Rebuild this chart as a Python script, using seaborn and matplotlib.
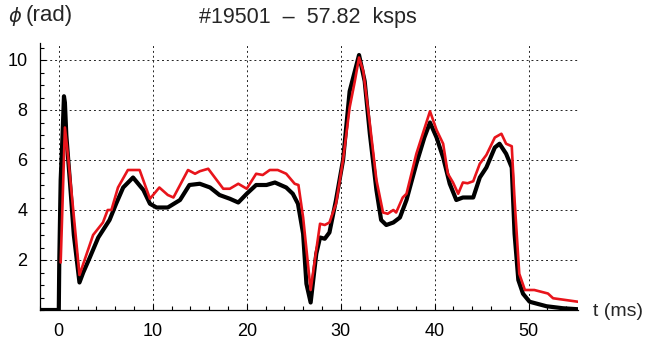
import matplotlib
matplotlib.use("Agg")
import matplotlib.pyplot as plt
from matplotlib.ticker import MultipleLocator
import seaborn as sns
import pandas as pd

# ---- data ----
t_black = [-2.0, 0.0, 0.05, 0.2, 0.4, 0.55, 0.65, 0.8, 1.17, 1.6, 2.2, 2.6, 3.3, 4.2,
           5.4, 6.1, 6.85, 7.9, 9.0, 9.7, 10.4, 11.6, 12.9, 13.9, 15.0, 16.1, 17.1,
           18.2, 19.1, 20.0, 21.0, 22.1, 23.0, 24.2, 24.9, 25.45, 26.0, 26.35, 26.8,
           27.4, 27.8, 28.3, 28.8, 29.5, 30.25, 30.95, 31.95, 32.55, 33.1, 33.8, 34.3,
           34.85, 35.6, 36.3, 37.0, 38.05, 38.9, 39.5, 40.2, 40.9, 41.6, 42.3, 43.0,
           44.1, 44.8, 45.5, 46.4, 46.9, 47.6, 48.2, 48.5, 48.9, 49.4, 50.1, 51.9,
           53.65, 55.25]
phi_black = [0.0, 0.0, 1.9, 5.2, 7.0, 8.55, 8.3, 7.0, 5.2, 3.0, 1.1, 1.5, 2.1, 2.9,
             3.6, 4.25, 4.9, 5.3, 4.8, 4.25, 4.1, 4.1, 4.4, 5.0, 5.05, 4.9, 4.6,
             4.45, 4.3, 4.65, 5.0, 5.0, 5.1, 4.9, 4.65, 4.25, 3.05, 1.05, 0.3,
             2.25, 2.9, 2.85, 3.1, 4.4, 6.0, 8.75, 10.2, 9.15, 7.05, 4.8, 3.6,
             3.4, 3.5, 3.7, 4.4, 5.85, 6.9, 7.5, 6.9, 6.1, 5.05, 4.4, 4.5,
             4.5, 5.3, 5.7, 6.5, 6.65, 6.25, 5.7, 3.05, 1.2, 0.65, 0.33, 0.15,
             0.07, 0.03]

t_red = [0.2, 0.65, 1.0, 2.2, 3.65, 4.7, 5.2, 5.6, 6.3, 7.35, 8.6, 9.7, 10.7, 11.6,
         12.2, 13.75, 14.5, 15.0, 15.9, 17.5, 18.2, 19.1, 20.0, 21.0, 21.7, 22.45,
         23.3, 24.2, 25.1, 25.5, 26.0, 26.8, 27.4, 27.8, 28.3, 28.8, 29.5, 30.25,
         30.95, 31.5, 31.95, 32.4, 33.1, 33.8, 34.5, 35.0, 35.6, 35.9, 36.6, 37.0,
         38.05, 39.5, 40.2, 40.9, 41.4, 41.95, 42.5, 43.0, 43.5, 44.1, 44.8, 45.5,
         46.4, 47.1, 47.6, 48.2, 48.5, 49.0, 49.6, 50.6, 52.05, 52.6, 55.25]
phi_red = [1.9, 7.3, 6.1, 1.4, 3.0, 3.5, 4.0, 4.0, 4.9, 5.6, 5.6, 4.45, 4.9, 4.6,
           4.5, 5.6, 5.45, 5.55, 5.65, 4.85, 4.85, 5.05, 4.85, 5.45, 5.4, 5.6,
           5.6, 5.45, 5.05, 5.0, 3.7, 0.8, 2.4, 3.45, 3.4, 3.5, 4.25, 6.0,
           8.1, 9.15, 10.1, 9.55, 7.45, 5.2, 3.9, 3.85, 4.0, 3.9, 4.5, 4.65,
           6.25, 7.95, 7.2, 6.65, 5.45, 5.1, 4.65, 5.1, 5.07, 5.15, 5.85, 6.2,
           6.9, 7.05, 6.65, 6.55, 4.4, 1.45, 0.8, 0.8, 0.66, 0.47, 0.33]

x_ticks = [0, 10, 20, 30, 40, 50]
y_ticks = [2, 4, 6, 8, 10]
title = "#19501  \u2013  57.82  ksps"
ylabel_sym = "\u03d5"
ylabel_unit = "(rad)"
xlabel = "t (ms)"

# ---- style ----
sns.set_style("ticks")
plt.rcParams["font.family"] = ["Liberation Sans", "DejaVu Sans"]

fig = plt.figure(figsize=(6.48, 3.40), dpi=100)
ax = fig.add_axes([40 / 648, 1 - 310 / 340, (578 - 40) / 648, (310 - 43) / 340])

df_b = pd.DataFrame({"t": t_black, "phi": phi_black})
df_r = pd.DataFrame({"t": t_red, "phi": phi_red})

sns.lineplot(data=df_b, x="t", y="phi", ax=ax, color="black", lw=3.0,
             sort=False, estimator=None, zorder=3)
sns.lineplot(data=df_r, x="t", y="phi", ax=ax, color="#e8141b", lw=1.9,
             sort=False, estimator=None, zorder=4)

ax.set_xlim(-2.0, 55.25)
ax.set_ylim(0, 10.68)
ax.set_xticks(x_ticks)
ax.set_yticks(y_ticks)
ax.xaxis.set_minor_locator(MultipleLocator(2))
ax.yaxis.set_minor_locator(MultipleLocator(0.5))
ax.tick_params(axis="both", which="both", direction="in", labelsize=13,
               colors="black")
ax.tick_params(axis="both", which="major", length=4, width=0.8)
ax.tick_params(axis="both", which="minor", length=3, width=0.8)
ax.tick_params(axis="y", which="major", pad=9)
ax.tick_params(axis="x", which="major", pad=9)

ax.grid(True, which="major", linestyle=(0, (2.0, 3.0)), color="#222222", lw=0.7)
ax.set_axisbelow(True)

for s in ["top", "right"]:
    ax.spines[s].set_visible(False)
for s in ["left", "bottom"]:
    ax.spines[s].set_color("black")
    ax.spines[s].set_linewidth(0.9)

ax.set_xlabel("")
ax.set_ylabel("")
fig.text(308 / 648, 1 - 18 / 340, title, ha="center", va="center", fontsize=15.5)
fig.text(8 / 648, 1 - 16 / 340, ylabel_sym, ha="left", va="center", fontsize=14,
         style="italic", family=["DejaVu Sans"])
fig.text(26 / 648, 1 - 16 / 340, ylabel_unit, ha="left", va="center", fontsize=16)
fig.text(593 / 648, 1 - 312 / 340, xlabel, ha="left", va="center", fontsize=14)

fig.savefig("out.png", dpi=100)
